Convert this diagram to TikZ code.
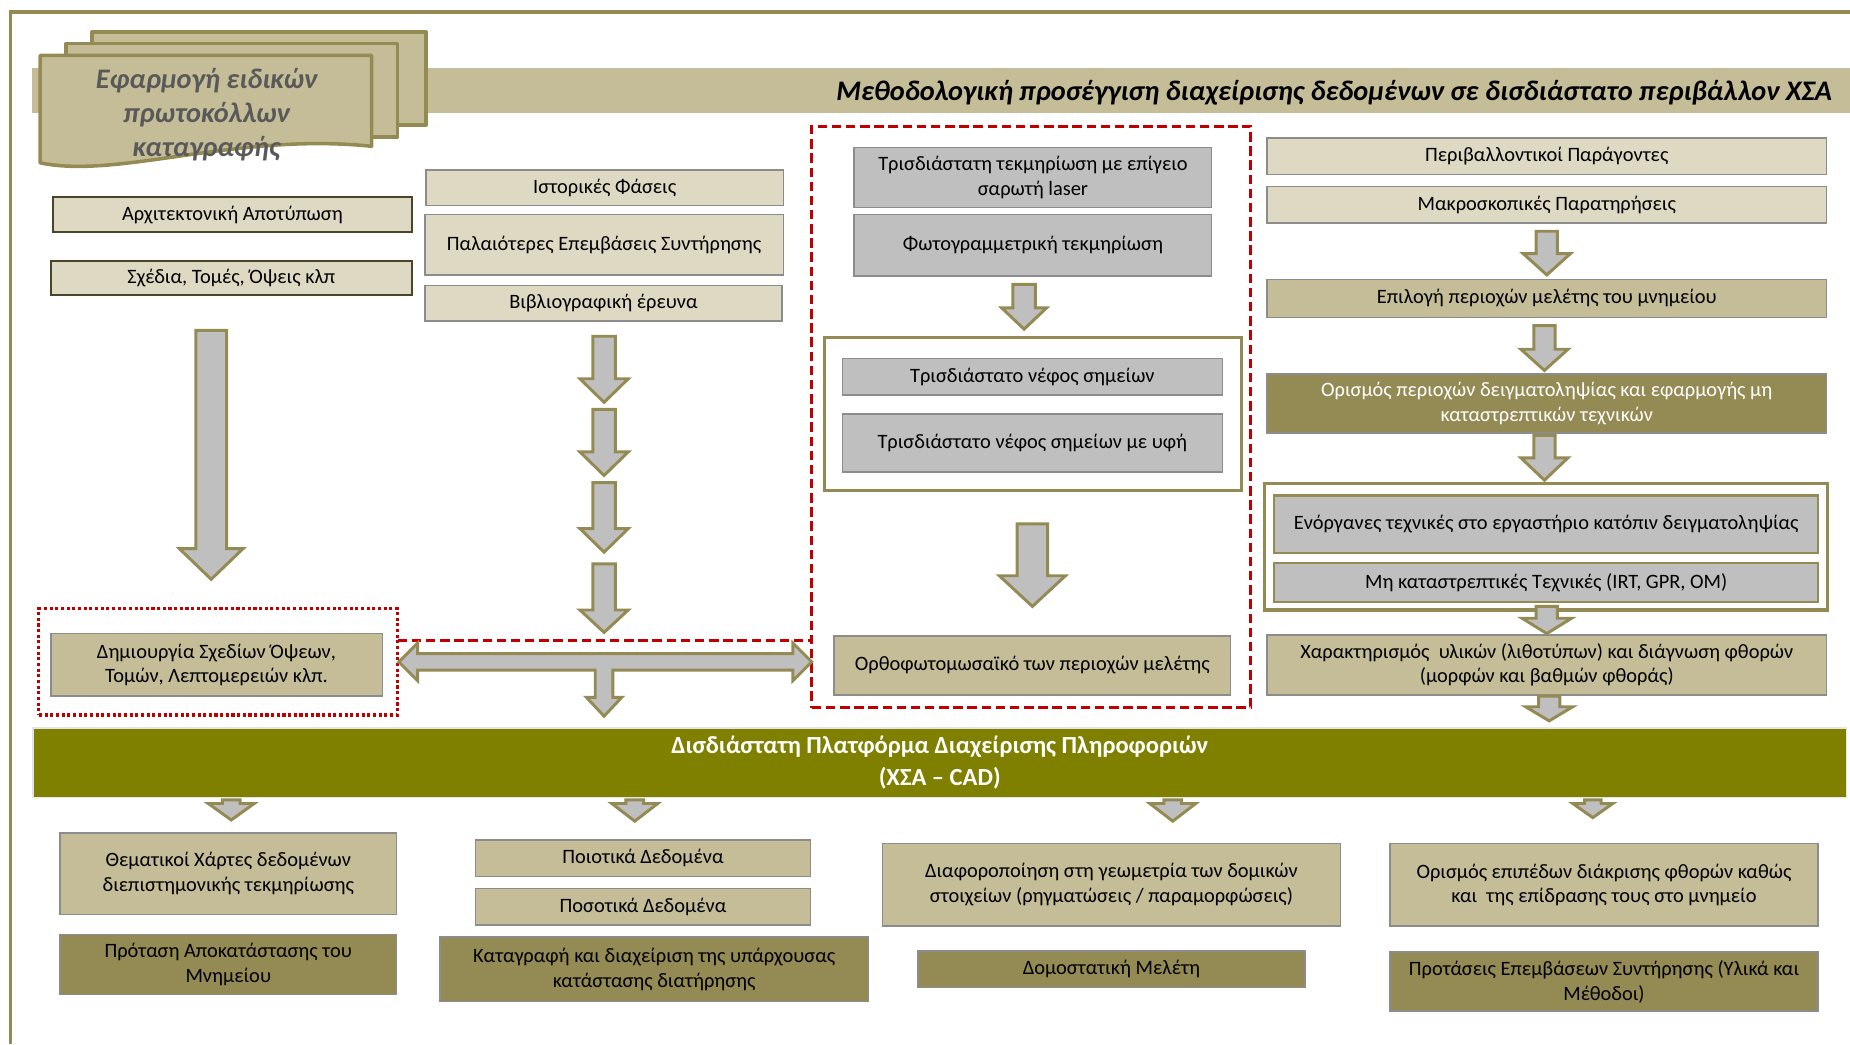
\documentclass[tikz,border=0pt]{standalone}
\usepackage{fontspec}
\setmainfont{Carlito}
\definecolor{kOlive}{HTML}{948A54}
\definecolor{kMed}{HTML}{C4BD97}
\definecolor{kLight}{HTML}{DDD9C3}
\definecolor{kGray}{HTML}{BFBFBF}
\definecolor{kBorder}{HTML}{8C8C8C}
\definecolor{kDark}{HTML}{4A4526}
\definecolor{kRed}{HTML}{C00000}
\definecolor{kPlat}{HTML}{7F7F00}
\definecolor{kDocText}{HTML}{595959}

\newcommand{\bodyfont}{\fontsize{17.3}{21}\selectfont}

\tikzset{
 boxbase/.style={draw=kBorder, line width=1.3pt, inner sep=0pt, align=center, font=\bodyfont, text=black},
 lightbox/.style={boxbase, fill=kLight},
 darklight/.style={boxbase, fill=kLight, draw=kDark, line width=1.8pt},
 medbox/.style={boxbase, fill=kMed},
 darkbox/.style={boxbase, fill=kOlive, text=white},
 darkboxb/.style={boxbase, fill=kOlive},
 graybox/.style={boxbase, fill=kGray},
 grayolive/.style={boxbase, fill=kGray, draw=kOlive, line width=1.8pt},
 grpbox/.style={draw=kOlive, line width=2.8pt, fill=white, inner sep=0pt},
 reddash/.style={draw=kRed, line width=2.6pt, dash pattern=on 8pt off 4pt, inner sep=0pt},
 reddot/.style={draw=kRed, line width=2.6pt, dash pattern=on 2.6pt off 2.2pt, inner sep=0pt},
 platform/.style={boxbase, fill=kPlat, draw=white!90!black, line width=1.5pt, text=white, font=\fontsize{20.8}{27}\selectfont\bfseries},
 blockarrow/.style={fill=kGray, draw=kOlive, line width=2.5pt, line join=miter},
 docpage/.style={fill=kMed, draw=kOlive, line width=3pt, line join=round},
 framestyle/.style={draw=kOlive, line width=3pt},
}

% box from (x1,y1) to (x2,y2): style, name, x1, y1, x2, y2, text
\newcommand{\flowbox}[7]{%
  \pgfmathsetmacro{\fbw}{#5-#3}%
  \pgfmathsetmacro{\fbh}{#6-#4}%
  \pgfmathsetmacro{\fbx}{(#3+#5)/2}%
  \pgfmathsetmacro{\fby}{(#4+#6)/2}%
  \node[#1, minimum width=\fbw pt, minimum height=\fbh pt] (#2) at (\fbx,\fby) {#7};%
}
% down block arrow: centre x, top, head start, tip, shaft width, head width
\newcommand{\blkdown}[6]{%
  \draw[blockarrow] ({#1-#5/2},#2) -- ({#1+#5/2},#2) -- ({#1+#5/2},#3) -- ({#1+#6/2},#3)
    -- (#1,#4) -- ({#1-#6/2},#3) -- ({#1-#5/2},#3) -- cycle;%
}

\begin{document}
\begin{tikzpicture}[x=1pt,y=-1pt]
\useasboundingbox (0,0) rectangle (1568,885);

% frame
\draw[framestyle] (9,885) -- (9,10) -- (1568,10);

% title band
\fill[kMed] (27,58) rectangle (1568,96);
\node[anchor=east, inner sep=0pt, font=\fontsize{24}{28}\selectfont\bfseries\itshape, text=black] (title) at (1553,78.5)
  {Μεθοδολογική προσέγγιση διαχείρισης δεδομένων σε δισδιάστατο περιβάλλον ΧΣΑ};

% multi-document shape
\draw[docpage] (78,27) rectangle (361,106);
\draw[docpage] (56,37) rectangle (337,116);
\draw[docpage] (34,47) -- (315,47) -- (315,124) .. controls (200,112) and (100,152) .. (34,138) -- cycle;
\node[align=center, inner sep=0pt, text=kDocText, font=\fontsize{24}{29}\selectfont\bfseries\itshape] (doc) at (175,97)
  {Εφαρμογή ειδικών\\πρωτοκόλλων\\καταγραφής};

% red group outlines
\flowbox{reddot}{grpA}{33}{516}{337}{606}{}
\flowbox{reddash}{grpB}{688}{107}{1060}{600}{}
\coordinate (rl) at (337,543);
\coordinate (rr) at (688,543);
\draw[reddash] (rl) -- (rr);

% column 1
\flowbox{darklight}{arch}{45}{167}{349}{197}{Αρχιτεκτονική Αποτύπωση}
\flowbox{darklight}{sxed}{43}{221}{349}{250}{Σχέδια, Τομές, Όψεις κλπ}
\blkdown{179}{280}{465}{491}{26}{54}
\flowbox{medbox}{dimi}{43}{537}{324}{590}{Δημιουργία Σχεδίων Όψεων,\\Τομών, Λεπτομερειών κλπ.}

% column 2
\flowbox{lightbox}{ist}{361}{144}{664}{174}{Ιστορικές Φάσεις}
\flowbox{lightbox}{pal}{360}{182}{664}{233}{Παλαιότερες Επεμβάσεις Συντήρησης}
\flowbox{lightbox}{vivl}{360}{242}{663}{272}{Βιβλιογραφική έρευνα}
\blkdown{512}{285}{321}{341}{19}{41}
\blkdown{512}{347}{383}{403}{19}{41}
\blkdown{512}{409}{448}{468}{19}{41}
\blkdown{512}{478}{517}{536}{19}{41}
% T-shaped double arrow
\draw[blockarrow] (338,561) -- (354,545) -- (354,554) -- (672,554) -- (672,545) -- (688,561)
  -- (672,577) -- (672,568) -- (519.5,568) -- (519.5,591) -- (527,591) -- (512,607) -- (497,591)
  -- (504.5,591) -- (504.5,568) -- (354,568) -- (354,577) -- cycle;

% column 3
\flowbox{graybox}{tls}{724}{125}{1027}{176}{Τρισδιάστατη τεκμηρίωση με επίγειο\\σαρωτή laser}
\flowbox{graybox}{phot}{724}{182}{1027}{234}{Φωτογραμμετρική τεκμηρίωση}
\blkdown{868}{241}{261}{279}{19}{38}
\flowbox{grpbox}{grpC}{699}{286}{1052}{416}{}
\flowbox{graybox}{cloud}{714}{304}{1036}{335}{Τρισδιάστατο νέφος σημείων}
\flowbox{graybox}{cloudt}{714}{351}{1036}{400}{Τρισδιάστατο νέφος σημείων με υφή}
\blkdown{875}{444}{488}{514}{26}{56}
\flowbox{medbox}{ortho}{707}{539}{1043}{589}{Ορθοφωτομωσαϊκό των περιοχών μελέτης}

% column 4
\flowbox{lightbox}{env}{1074}{117}{1548}{148}{Περιβαλλοντικοί Παράγοντες}
\flowbox{lightbox}{macro}{1074}{158}{1548}{189}{Μακροσκοπικές Παρατηρήσεις}
\blkdown{1311}{196}{215}{233}{18}{40}
\flowbox{medbox}{sel}{1074}{237}{1548}{269}{Επιλογή περιοχών μελέτης του μνημείου}
\blkdown{1309}{276}{296}{314}{18}{40}
\flowbox{darkbox}{def}{1074}{317}{1548}{367}{Ορισμός περιοχών δειγματοληψίας και εφαρμογής μη\\καταστρεπτικών τεχνικών}
\blkdown{1309}{369}{388}{407}{18}{40}
\flowbox{grpbox}{grpD}{1072}{410}{1549}{517}{}
\flowbox{grayolive}{lab}{1080}{420}{1541}{469}{Ενόργανες τεχνικές στο εργαστήριο κατόπιν δειγματοληψίας}
\flowbox{grayolive}{ndt}{1080}{477}{1541}{510}{Μη καταστρεπτικές Τεχνικές (IRT, GPR, OM)}
\blkdown{1311}{514}{524}{537}{18}{42}
\flowbox{medbox}{char}{1074}{538}{1548}{589}{Χαρακτηρισμός\ \ υλικών (λιθοτύπων) και διάγνωση φθορών\\(μορφών και βαθμών φθοράς)}
\blkdown{1313}{590}{599}{611}{18}{40}

% platform band
\flowbox{platform}{plat}{28}{617}{1565}{676}{Δισδιάστατη Πλατφόρμα Διαχείρισης Πληροφοριών\\(ΧΣΑ – CAD)}

% arrows below the band
\blkdown{196}{678}{681}{695}{15}{39}
\blkdown{538}{678}{681}{696}{15}{39}
\blkdown{994}{678}{681}{696}{15}{39}
\blkdown{1350}{678}{681}{693}{14}{34}

% bottom row
\flowbox{medbox}{them}{51}{706}{336}{775}{Θεματικοί Χάρτες δεδομένων\\διεπιστημονικής τεκμηρίωσης}
\flowbox{darkboxb}{rest}{51}{792}{336}{843}{Πρόταση Αποκατάστασης του\\Μνημείου}
\flowbox{medbox}{qual}{403}{712}{687}{743}{Ποιοτικά Δεδομένα}
\flowbox{medbox}{quan}{403}{753}{687}{784}{Ποσοτικά Δεδομένα}
\flowbox{darkboxb}{rec}{373}{794}{736}{849}{Καταγραφή και διαχείριση της υπάρχουσας\\κατάστασης διατήρησης}
\flowbox{medbox}{geom}{748}{715}{1136}{785}{Διαφοροποίηση στη γεωμετρία των δομικών\\στοιχείων (ρηγματώσεις / παραμορφώσεις)}
\flowbox{darkboxb}{struct}{778}{806}{1106}{837}{Δομοστατική Μελέτη}
\flowbox{medbox}{levels}{1178}{715}{1541}{785}{Ορισμός επιπέδων διάκρισης φθορών καθώς\\και\ \ της επίδρασης τους στο μνημείο}
\flowbox{darkboxb}{prop}{1178}{807}{1541}{857}{Προτάσεις Επεμβάσεων Συντήρησης (Υλικά και\\Μέθοδοι)}
\end{tikzpicture}
\end{document}
